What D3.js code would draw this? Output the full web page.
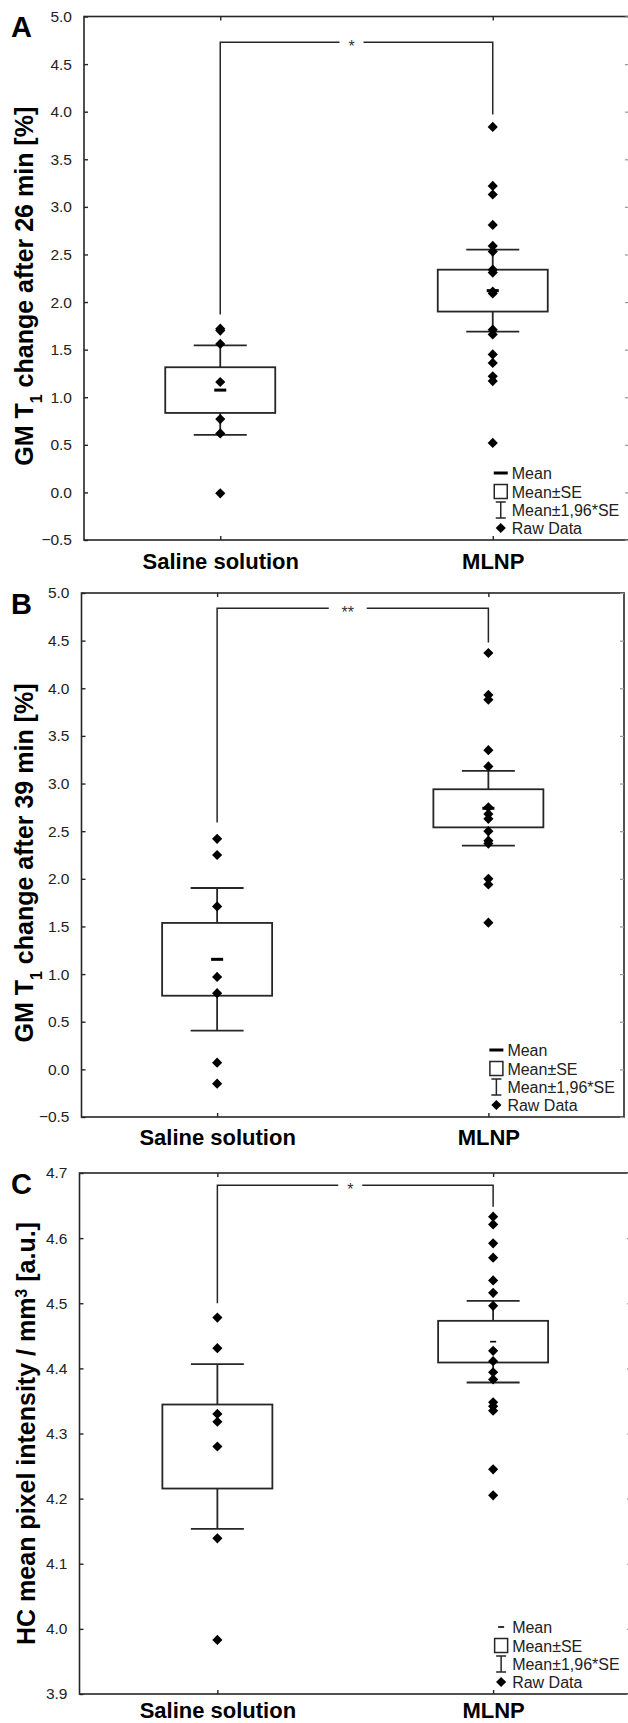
<!DOCTYPE html>
<html>
<head>
<meta charset="utf-8">
<script src="https://cdn.jsdelivr.net/npm/d3@7/dist/d3.min.js"></script>
<style>
  body { margin: 0; background: #fff; }
  svg { display: block; }
  text { font-family: "Liberation Sans", Arial, sans-serif; }
</style>
</head>
<body>
<svg id="chart" width="628" height="1723"></svg>
<script>
// group names on the x axis
const categories = ["Saline solution", "MLNP"];

// panel A: GM T1 change after 26 min
const salineA = [1.72, 1.70, 1.56, 1.16, 0.77, 0.62, -0.01];
const mlnpA = [3.84, 3.22, 3.13, 2.81, 2.59, 2.53, 2.34, 2.31, 2.11, 2.09, 1.71, 1.66, 1.45, 1.36, 1.22, 1.17, 0.52];
const meanA = [1.075, 2.12];
const seA = [0.24, 0.22];
const ticksA = [-0.5, 0.0, 0.5, 1.0, 1.5, 2.0, 2.5, 3.0, 3.5, 4.0, 4.5, 5.0];
const bracketA = [4.73, 1.87, 3.97];

// panel B: GM T1 change after 39 min
const salineB = [2.42, 2.25, 1.71, 0.97, 0.80, 0.07, -0.15];
const mlnpB = [4.37, 3.93, 3.88, 3.35, 3.18, 2.75, 2.68, 2.63, 2.50, 2.40, 2.37, 2.00, 1.94, 1.54];
const meanB = [1.155, 2.74];
const seB = [0.382, 0.20];
const ticksB = [-0.5, 0.0, 0.5, 1.0, 1.5, 2.0, 2.5, 3.0, 3.5, 4.0, 4.5, 5.0];
const bracketB = [4.84, 2.59, 4.48];

// panel C: HC mean pixel intensity
const salineC = [4.478, 4.431, 4.330, 4.318, 4.280, 4.139, 3.983];
const mlnpC = [4.633, 4.621, 4.592, 4.570, 4.535, 4.516, 4.496, 4.427, 4.411, 4.394, 4.383, 4.348, 4.342, 4.335, 4.245, 4.205];
const meanC = [4.28, 4.441];
const seC = [0.0645, 0.032];
const ticksC = [3.9, 4.0, 4.1, 4.2, 4.3, 4.4, 4.5, 4.6, 4.7];
const bracketC = [4.681, 4.50, 4.648];

const legendLabels = ["Mean", "Mean\u00b1SE", "Mean\u00b11,96*SE", "Raw Data"];

const panels = [
  { letter: "A", raw: [salineA, mlnpA], mean: meanA, se: seA, ticks: ticksA, bracket: bracketA, star: "*",
    title: [["GM T", ""], ["1", "sub"], [" change after 26 min [%]", ""]],
    left: 84, right: 629, top: 16.5, bottom: 540, meanW: 12, meanH: 3, titleX: 33, titleShift: 8, labelPad: 13 },
  { letter: "B", raw: [salineB, mlnpB], mean: meanB, se: seB, ticks: ticksB, bracket: bracketB, star: "**",
    title: [["GM T", ""], ["1", "sub"], [" change after 39 min [%]", ""]],
    left: 81.5, right: 624, top: 593, bottom: 1117, meanW: 12, meanH: 3, titleX: 33, titleShift: 8, labelPad: 12 },
  { letter: "C", raw: [salineC, mlnpC], mean: meanC, se: seC, ticks: ticksC, bracket: bracketC, star: "*",
    title: [["HC mean pixel intensity / mm", ""], ["3", "super"], [" [a.u.]", ""]],
    left: 79.5, right: 631, top: 1173, bottom: 1694, meanW: 6, meanH: 1.6, titleX: 35, titleShift: 0, labelPad: 8 }
];

const svg = d3.select("#chart");
const ink = "#262626";
const diamond = d3.symbol().type(d3.symbolDiamond2).size(66);

panels.forEach(drawPanel);

function drawPanel(p) {
  const g = svg.append("g");

  const x = d3.scalePoint()
    .domain(categories)
    .range([p.left, p.right])
    .padding(0.5);

  const y = d3.scaleLinear()
    .domain([p.ticks[0], p.ticks[p.ticks.length - 1]])
    .range([p.bottom, p.top]);

  // frame
  g.append("rect")
    .attr("x", p.left).attr("y", p.top)
    .attr("width", p.right - p.left).attr("height", p.bottom - p.top)
    .attr("fill", "none").attr("stroke", ink).attr("stroke-width", 1.6);

  // left axis with inward ticks
  const yAxis = d3.axisLeft(y).tickValues(p.ticks).tickFormat(d3.format(".1f")).tickSizeInner(-4).tickSizeOuter(0).tickPadding(12);
  g.append("g").attr("transform", `translate(${p.left},0)`).call(yAxis)
    .call(a => a.select(".domain").remove())
    .call(a => a.selectAll("line").attr("stroke", ink).attr("stroke-width", 1.4))
    .call(a => a.selectAll("text").attr("fill", "#222").style("font-size", "15.5px"));

  // right axis ticks
  const yRight = d3.axisRight(y).tickValues(p.ticks).tickSizeInner(-4).tickSizeOuter(0).tickFormat("");
  g.append("g").attr("transform", `translate(${p.right},0)`).call(yRight)
    .call(a => a.select(".domain").remove())
    .call(a => a.selectAll("line").attr("stroke", "#999").attr("stroke-width", 1.2));

  // bottom axis
  const xAxis = d3.axisBottom(x).tickSizeInner(-4).tickSizeOuter(0).tickPadding(p.labelPad);
  g.append("g").attr("transform", `translate(0,${p.bottom})`).call(xAxis)
    .call(a => a.select(".domain").remove())
    .call(a => a.selectAll("line").attr("stroke", ink).attr("stroke-width", 1.4))
    .call(a => a.selectAll("text").attr("fill", "#000").style("font-size", "22px").style("font-weight", "bold"));

  // top ticks
  const xTop = d3.axisTop(x).tickSizeInner(-4).tickSizeOuter(0).tickFormat("");
  g.append("g").attr("transform", `translate(0,${p.top})`).call(xTop)
    .call(a => a.select(".domain").remove())
    .call(a => a.selectAll("line").attr("stroke", ink).attr("stroke-width", 1.4));

  // panel letter
  g.append("text")
    .attr("x", 11).attr("y", p.top + 20.5)
    .style("font-size", "29px").style("font-weight", "bold")
    .text(p.letter);

  // y title
  const t = g.append("text")
    .attr("transform", `translate(${p.titleX},${(p.top + p.bottom) / 2 + p.titleShift}) rotate(-90)`)
    .attr("text-anchor", "middle")
    .style("font-size", "25px").style("font-weight", "bold");
  p.title.forEach(([s, shift]) => {
    const ts = t.append("tspan").text(s);
    if (shift) ts.attr("baseline-shift", shift).style("font-size", "16px");
  });

  // significance bracket
  const [level, leftEnd, rightEnd] = p.bracket;
  const x0 = x(categories[0]), x1 = x(categories[1]);
  const mid = (x0 + x1) / 2 - 5;
  const gap = p.star.length > 1 ? 19 : 12;
  const br = g.append("g").attr("stroke", ink).attr("stroke-width", 1.5).attr("fill", "none");
  br.append("path").attr("d", `M${x0},${y(leftEnd)}V${y(level)}H${mid - gap}`);
  br.append("path").attr("d", `M${mid + gap},${y(level)}H${x1}V${y(rightEnd)}`);
  g.append("text")
    .attr("x", mid).attr("y", y(level) + 10)
    .attr("text-anchor", "middle")
    .style("font-size", "16px").attr("fill", "#333")
    .text(p.star);

  // boxes and whiskers
  const boxW = 110, capW = 53;
  categories.forEach((c, i) => {
    const cx = x(c);
    const m = p.mean[i], se = p.se[i];
    const grp = g.append("g").attr("stroke", ink).attr("stroke-width", 1.8).attr("fill", "none");
    grp.append("line").attr("x1", cx).attr("x2", cx).attr("y1", y(m + se)).attr("y2", y(m + 1.96 * se));
    grp.append("line").attr("x1", cx).attr("x2", cx).attr("y1", y(m - se)).attr("y2", y(m - 1.96 * se));
    grp.append("line").attr("x1", cx - capW / 2).attr("x2", cx + capW / 2).attr("y1", y(m + 1.96 * se)).attr("y2", y(m + 1.96 * se));
    grp.append("line").attr("x1", cx - capW / 2).attr("x2", cx + capW / 2).attr("y1", y(m - 1.96 * se)).attr("y2", y(m - 1.96 * se));
    grp.append("rect")
      .attr("x", cx - boxW / 2).attr("width", boxW)
      .attr("y", y(m + se)).attr("height", y(m - se) - y(m + se));
    g.append("rect")
      .attr("x", cx - p.meanW / 2).attr("width", p.meanW)
      .attr("y", y(m) - p.meanH / 2).attr("height", p.meanH)
      .attr("fill", "#000");

    g.selectAll(null)
      .data(p.raw[i])
      .enter().append("path")
      .attr("d", diamond)
      .attr("transform", d => `translate(${cx},${y(d)})`)
      .attr("fill", "#000");
  });

  // legend
  const lx = x(categories[1]) + 8;
  const rowY = [p.bottom - 67, p.bottom - 48.5, p.bottom - 30, p.bottom - 12];
  const lg = g.append("g");
  lg.append("rect").attr("x", lx - p.meanW / 2 - (p.meanW < 10 ? 0 : 1)).attr("y", rowY[0] - p.meanH / 2)
    .attr("width", p.meanW + (p.meanW < 10 ? 0 : 2)).attr("height", p.meanH).attr("fill", "#000");
  lg.append("rect").attr("x", lx - 6.5).attr("y", rowY[1] - 7).attr("width", 13).attr("height", 14)
    .attr("fill", "none").attr("stroke", ink).attr("stroke-width", 1.5);
  lg.append("path").attr("d", `M${lx - 5},${rowY[2] - 8}H${lx + 5}M${lx},${rowY[2] - 8}V${rowY[2] + 8}M${lx - 5},${rowY[2] + 8}H${lx + 5}`)
    .attr("stroke", ink).attr("stroke-width", 1.5).attr("fill", "none");
  lg.append("path").attr("d", diamond).attr("transform", `translate(${lx},${rowY[3]})`).attr("fill", "#000");
  lg.selectAll("text.leg")
    .data(legendLabels)
    .enter().append("text")
    .attr("class", "leg")
    .attr("x", lx + 11).attr("y", (d, i) => rowY[i] + 6)
    .style("font-size", "16px").attr("fill", "#222")
    .text(d => d);
}
</script>
</body>
</html>
